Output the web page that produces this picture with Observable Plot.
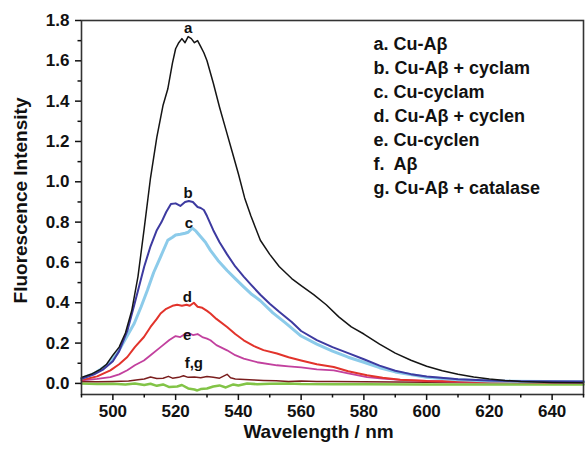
<!DOCTYPE html>
<html>
<head>
<meta charset="utf-8">
<script src="https://cdn.jsdelivr.net/npm/d3@7"></script>
<script src="https://cdn.jsdelivr.net/npm/@observablehq/plot@0.6"></script>
<style>
  html, body { margin: 0; padding: 0; background: #fff; }
</style>
</head>
<body>
<div id="chart"></div>
<script>
// ---- data ----
const aWl  = [490,493,496,498,500,502,504,506,508,510,512,514,516,517.5,519,520,521,522,523,524,525,526,527,528,529,530,532,534,536,538,540,542,544,547,550,553,557,560,564,568,572,576,580,585,590,595,600,605,610,615,620,625,630,640,650];
const aInt = [0.03,0.045,0.07,0.095,0.14,0.18,0.25,0.36,0.53,0.77,1.02,1.22,1.38,1.46,1.59,1.66,1.69,1.71,1.69,1.72,1.71,1.69,1.70,1.67,1.64,1.60,1.49,1.37,1.26,1.15,1.04,0.92,0.83,0.71,0.64,0.58,0.52,0.485,0.44,0.39,0.33,0.28,0.245,0.195,0.15,0.115,0.085,0.063,0.045,0.032,0.022,0.015,0.01,0.005,0.003];

const bWl  = [490,494,497,500,502,504.6,507,510,512,514,515.5,517,518.5,520,521.5,523,524.2,525.5,527,528,529,530,532,534,536.4,539,541.7,544,547,550,553,557,560,565,570,575,580,585,590,595,600,610,620,630,650];
const bInt = [0.023,0.045,0.07,0.11,0.16,0.26,0.40,0.58,0.68,0.76,0.80,0.85,0.89,0.893,0.88,0.90,0.905,0.90,0.875,0.87,0.86,0.83,0.76,0.70,0.64,0.58,0.53,0.49,0.44,0.395,0.355,0.305,0.26,0.215,0.18,0.15,0.12,0.088,0.063,0.046,0.034,0.021,0.014,0.011,0.009];

const cWl  = [490,494,498,501.4,504,506.8,509,511,513,515.2,517.5,519,520,521.5,523,524,525.3,526.5,528,529.5,531.1,533.5,536.4,539,541.7,544,547,551,555,560,565,570,575,580,585,590,600,610,620,650];
const cInt = [0.025,0.048,0.09,0.148,0.22,0.297,0.38,0.462,0.55,0.628,0.71,0.725,0.736,0.74,0.745,0.75,0.77,0.755,0.727,0.70,0.66,0.61,0.56,0.52,0.479,0.445,0.41,0.35,0.30,0.235,0.195,0.16,0.13,0.105,0.078,0.057,0.031,0.018,0.012,0.008];

const dWl  = [490,495,499.2,502,504.6,507,509.9,512,514,515.2,517,519,520.5,522,523.5,524.5,525.8,527,528.5,530,531.1,533,536.4,539,541.7,545,548,552.3,556,560,565,570.4,575,581,586,591.6,600,610,620,650];
const dInt = [0.017,0.035,0.065,0.095,0.131,0.18,0.23,0.28,0.32,0.347,0.37,0.385,0.39,0.385,0.39,0.385,0.40,0.38,0.375,0.36,0.347,0.32,0.28,0.245,0.214,0.185,0.165,0.148,0.13,0.114,0.095,0.081,0.06,0.04,0.028,0.018,0.012,0.009,0.007,0.005];

const eWl  = [490,495,499.2,502,504.6,507,509.9,512,515.2,518,520,521.5,523,524.2,525.5,527,528.5,530,531.1,533,536.4,539,541.7,546,552.3,556,560,565,570.4,575,581,586,591.6,600,610,650];
const eInt = [0.015,0.022,0.031,0.045,0.065,0.09,0.114,0.14,0.18,0.215,0.235,0.23,0.245,0.25,0.24,0.245,0.23,0.222,0.214,0.19,0.164,0.14,0.123,0.105,0.09,0.085,0.08,0.07,0.065,0.05,0.031,0.024,0.018,0.012,0.008,0.004];

const fWl  = [490,495,500,505,508,510,512,514,516,517.7,519,521,522.5,524,526,528,530,532,534,536.4,537.5,539,542,545,548,552,556,560,565,570,580,600,620,650];
const fInt = [0.01,0.008,0.01,0.012,0.018,0.022,0.032,0.024,0.026,0.035,0.026,0.03,0.038,0.03,0.032,0.028,0.034,0.03,0.026,0.045,0.028,0.022,0.02,0.017,0.015,0.013,0.01,0.012,0.009,0.01,0.008,0.006,0.005,0.004];

const gWl  = [490,495,500,504,507,510,512,514,516,518,520.5,522,524,526,526.9,528,530,532,534,536,538.4,540,542.8,546,550,556,560,570,580,600,620,650];
const gInt = [0.0,-0.003,-0.002,-0.005,0.0,-0.008,-0.002,-0.012,-0.005,-0.018,-0.015,-0.008,-0.025,-0.03,-0.035,-0.028,-0.025,-0.015,-0.01,-0.02,-0.005,-0.01,0.0,-0.004,-0.002,0.0,-0.003,-0.004,-0.004,-0.005,-0.005,-0.005];

const curveLetters = ["a","b","c","d","e","f,g"];
const letterWl     = [524, 524, 524.2, 523.7, 523.7, 525.8];
const letterInt    = [1.764, 0.943, 0.797, 0.426, 0.239, 0.101];

const legendLabels = [
  "a. Cu-A\u03b2",
  "b. Cu-A\u03b2 + cyclam",
  "c. Cu-cyclam",
  "d. Cu-A\u03b2 + cyclen",
  "e. Cu-cyclen",
  "f.\u2002A\u03b2",
  "g. Cu-A\u03b2 + catalase"
];

const xMajor = [500,520,540,560,580,600,620,640];
const xMinor = [490,510,530,550,570,590,610,630,650];
const yMajor = [0,0.2,0.4,0.6,0.8,1.0,1.2,1.4,1.6,1.8];
const yMinor = [0.1,0.3,0.5,0.7,0.9,1.1,1.3,1.5,1.7];

const xTitle = "Wavelength / nm";
const yTitle = "Fluorescence Intensity";

// ---- chart ----
const line = (wl, v, color, w) => Plot.line(v, {x: wl, y: v, stroke: color, strokeWidth: w, strokeLinejoin: "round"});

const chart = Plot.plot({
  width: 585,
  height: 452,
  marginLeft: 81,
  marginRight: 2,
  marginTop: 20,
  marginBottom: 58,
  x: {domain: [490, 650]},
  y: {domain: [-0.055, 1.8]},
  style: {fontFamily: "'Liberation Sans', Arial, sans-serif", background: "#fff", color: "#111"},
  marks: [
    line(gWl, gInt, "#82c447", 2.5),
    line(fWl, fInt, "#7a1e1e", 1.5),
    line(eWl, eInt, "#c2409e", 1.8),
    line(dWl, dInt, "#e2332b", 2),
    line(cWl, cInt, "#8ccbea", 3),
    line(bWl, bInt, "#3d3aa0", 2),
    line(aWl, aInt, "#151515", 1.5),
    Plot.frame({stroke: "#333", strokeWidth: 1.6}),
    Plot.axisX({ticks: xMajor, tickSize: 6, tickPadding: 4, tickFormat: d => String(d), fontSize: 17, fontWeight: "bold", label: null, strokeWidth: 1.5}),
    Plot.axisX({ticks: xMinor, tickSize: 3.5, tickFormat: () => "", label: null, strokeWidth: 1.5}),
    Plot.axisY({ticks: yMajor, tickSize: 6, tickPadding: 6, tickFormat: d3.format(".1f"), fontSize: 17, fontWeight: "bold", label: null, strokeWidth: 1.5}),
    Plot.axisY({ticks: yMinor, tickSize: 3.5, tickFormat: () => "", label: null, strokeWidth: 1.5}),
    Plot.text(curveLetters, {x: letterWl, y: letterInt, text: d => d, fontSize: 15, fontWeight: "bold", fill: "#111"}),
    Plot.text([legendLabels.join("\n")], {frameAnchor: "top-left", dx: 292, dy: 12, lineAnchor: "top", textAnchor: "start", lineHeight: 24 / 18, fontSize: 18, fontWeight: "bold", fill: "#111"}),
    Plot.text([xTitle], {frameAnchor: "bottom", dx: -14, dy: 30, lineAnchor: "top", textAnchor: "middle", fontSize: 19, fontWeight: "bold", fill: "#111"}),
    Plot.text([yTitle], {frameAnchor: "left", rotate: -90, dx: -61, dy: -7, lineAnchor: "middle", textAnchor: "middle", fontSize: 19, fontWeight: "bold", fill: "#111"})
  ]
});
document.getElementById("chart").appendChild(chart);
</script>
</body>
</html>
